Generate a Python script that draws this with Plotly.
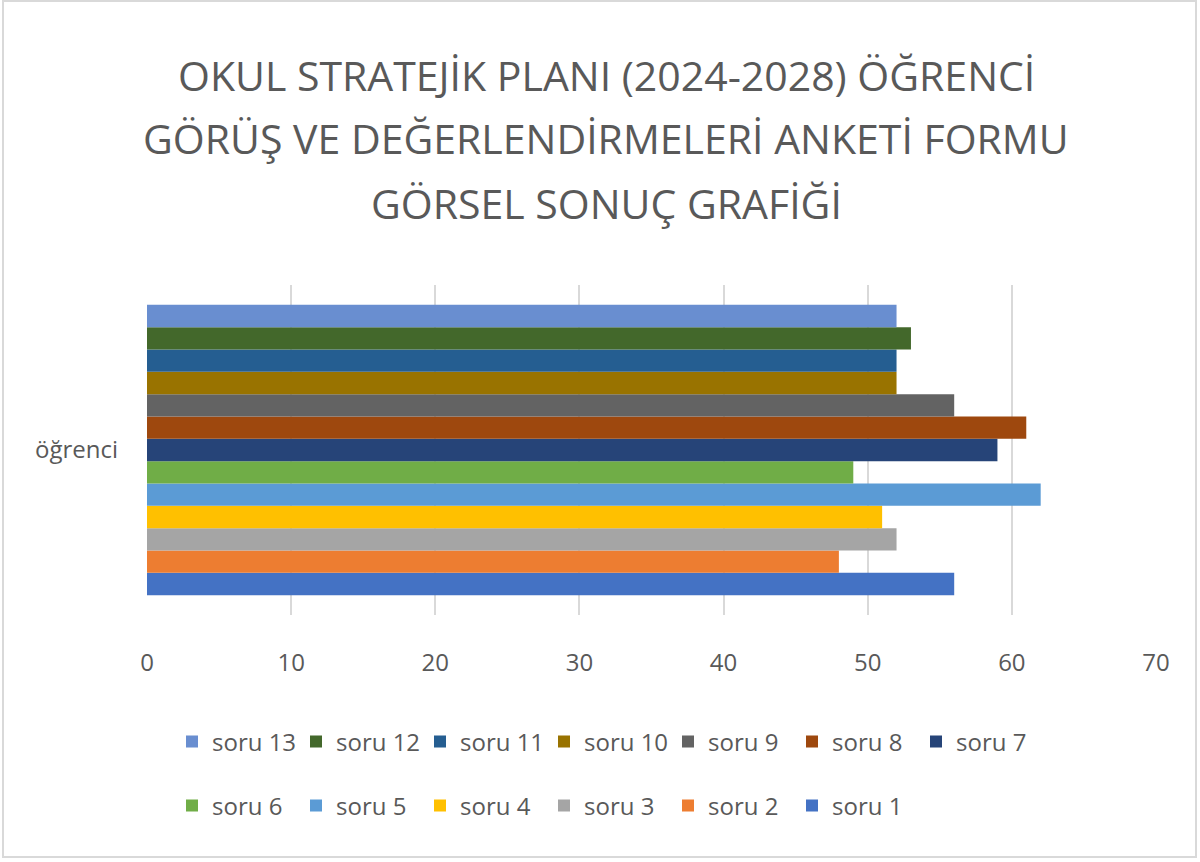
import plotly.graph_objects as go

categories = ["öğrenci"]
series_names = ["soru 1", "soru 2", "soru 3", "soru 4", "soru 5", "soru 6", "soru 7",
                "soru 8", "soru 9", "soru 10", "soru 11", "soru 12", "soru 13"]
series_values = [56, 48, 52, 51, 62, 49, 59, 61, 56, 52, 52, 53, 52]
colors = ["#4472C4", "#ED7D31", "#A5A5A5", "#FFC000", "#5B9BD5", "#70AD47", "#264478",
          "#9E480E", "#636363", "#997300", "#255E91", "#43682B", "#698ED0"]
x_ticks = [0, 10, 20, 30, 40, 50, 60, 70]
title_lines = ["OKUL STRATEJİK PLANI (2024-2028) ÖĞRENCİ",
               "GÖRÜŞ VE DEĞERLENDİRMELERİ ANKETİ FORMU",
               "GÖRSEL SONUÇ GRAFİĞİ"]

FONT = "Open Sans, sans-serif"
TXT = "#595959"

# layout geometry (pixels)
L, R, T, B = 147, 44, 285, 247
PH = 862 - T - B
PW = 1200 - L - R


def py(p):
    return (862 - B - p) / PH


def px(p):
    return (p - L) / PW


fig = go.Figure()
for i, (name, val, col) in enumerate(zip(series_names, series_values, colors)):
    fig.add_trace(go.Bar(
        y=categories, x=[val], name=name, orientation="h",
        marker=dict(color=col, line=dict(width=0)),
        legend="legend" if i >= 6 else "legend2",
    ))

legend_common = dict(orientation="h", traceorder="reversed", xanchor="left",
                     yanchor="middle", font=dict(size=24, color=TXT),
                     entrywidth=79, entrywidthmode="pixels", itemwidth=30,
                     bgcolor="rgba(0,0,0,0)")

title_y = [75, 138, 203]
annotations = [dict(text=t, xref="paper", yref="paper", x=px(606), y=py(yy),
                    xanchor="center", yanchor="middle", showarrow=False,
                    font=dict(family=FONT, size=41, color=TXT))
               for t, yy in zip(title_lines, title_y)]

fig.update_layout(
    width=1200, height=862,
    margin=dict(l=L, r=R, t=T, b=B, autoexpand=False),
    paper_bgcolor="white", plot_bgcolor="white",
    barmode="group", bargap=0.12, bargroupgap=0,
    font=dict(family=FONT, color=TXT),
    xaxis=dict(range=[0, 70], tickvals=x_ticks, showgrid=True, gridcolor="#D9D9D9",
               gridwidth=2, zeroline=False, showline=False, ticks="",
               tickfont=dict(size=24, color=TXT), ticklabelstandoff=31),
    yaxis=dict(showgrid=False, zeroline=False, showline=False, ticks="",
               tickfont=dict(size=24, color=TXT), ticklabelstandoff=28),
    legend=dict(x=px(172), y=py(742), **legend_common),
    legend2=dict(x=px(172), y=py(806), **legend_common),
    showlegend=True,
    annotations=annotations,
    shapes=[dict(type="rect", xref="paper", yref="paper",
                 x0=px(3), x1=px(1196), y0=py(857), y1=py(1),
                 line=dict(color="#D9D9D9", width=2), fillcolor="rgba(0,0,0,0)",
                 layer="below")],
)

fig.write_html("out.html", config={"displayModeBar": False},
               post_script="document.body.style.margin='0';document.body.style.overflow='hidden';")
